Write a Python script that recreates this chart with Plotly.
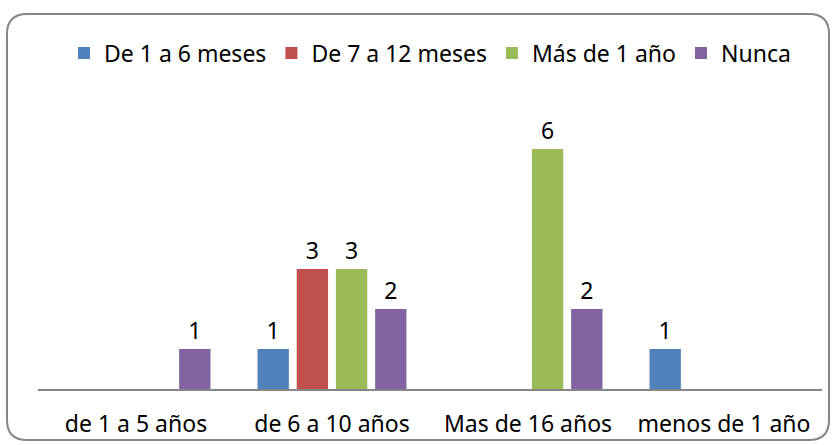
import plotly.graph_objects as go

categories = ["de 1 a 5 años", "de 6 a 10 años", "Mas de 16 años", "menos de 1 año"]
series_names = ["De 1 a 6 meses", "De 7 a 12 meses", "Más de 1 año", "Nunca"]
de_1_a_6_meses = [None, 1, None, 1]
de_7_a_12_meses = [None, 3, None, None]
mas_de_1_anio = [None, 3, 6, None]
nunca = [1, 2, 2, None]
colors = ["#4F81BD", "#C0504D", "#9BBB59", "#8064A2"]

FONT = "Noto Sans, Open Sans, Arial, sans-serif"
FS = 23
W, H = 836, 445
L, R, T, B = 38, 14, 109, 56

fig = go.Figure()
for name, vals, col in zip(series_names, [de_1_a_6_meses, de_7_a_12_meses, mas_de_1_anio, nunca], colors):
    fig.add_trace(go.Bar(
        name=name, x=categories, y=vals, marker=dict(color=col, line=dict(width=0)),
        text=[("" if v is None else str(v)) for v in vals],
        textposition="outside", constraintext="none", cliponaxis=False,
        textfont=dict(family=FONT, size=FS, color="black"),
    ))

pw = W - L - R
ph = H - T - B
def px(x):
    return (x - L) / pw
def py(y):
    return (H - B - y) / ph

x0, x1, y0, y1, r = 7, 829, 14, 440, 20
path = (f"M {px(x0 + r)},{py(y0)} L {px(x1 - r)},{py(y0)} Q {px(x1)},{py(y0)} {px(x1)},{py(y0 + r)} "
        f"L {px(x1)},{py(y1 - r)} Q {px(x1)},{py(y1)} {px(x1 - r)},{py(y1)} "
        f"L {px(x0 + r)},{py(y1)} Q {px(x0)},{py(y1)} {px(x0)},{py(y1 - r)} "
        f"L {px(x0)},{py(y0 + r)} Q {px(x0)},{py(y0)} {px(x0 + r)},{py(y0)} Z")

fig.update_layout(
    width=W, height=H,
    margin=dict(l=L, r=R, t=T, b=B),
    paper_bgcolor="white", plot_bgcolor="white",
    barmode="group", bargap=0.2, bargroupgap=0.2,
    font=dict(family=FONT, size=FS, color="black"),
    showlegend=True,
    legend=dict(orientation="h", x=0.5, xanchor="center", yref="container", y=1 - 53 / H, yanchor="middle",
                font=dict(family=FONT, size=FS, color="black"),
                traceorder="normal", bgcolor="rgba(0,0,0,0)"),
    xaxis=dict(showline=True, linecolor="#868686", linewidth=2, ticks="", showgrid=False, automargin=False,
               tickfont=dict(family=FONT, size=FS, color="black"), ticklabelstandoff=13),
    yaxis=dict(range=[0, 7], visible=False, showgrid=False, zeroline=False, automargin=False),
    shapes=[dict(type="path", xref="paper", yref="paper", path=path,
                 line=dict(color="#868686", width=2), fillcolor="rgba(0,0,0,0)", layer="below")],
)

fig.write_html("out.html", config={"displayModeBar": False},
               post_script="document.body.style.margin='0';document.body.style.overflow='hidden';")
